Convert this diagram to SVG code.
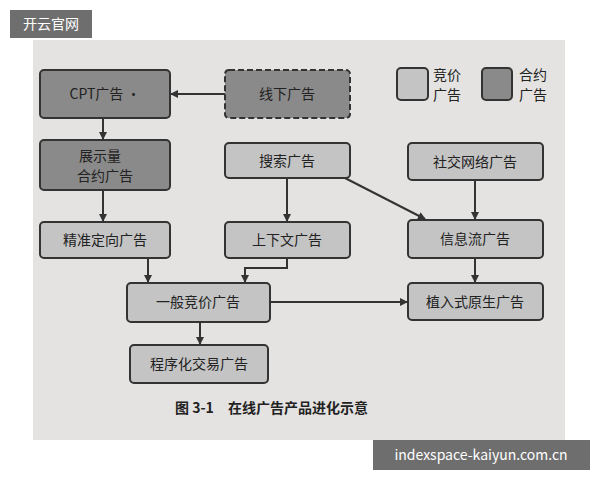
<svg xmlns="http://www.w3.org/2000/svg" width="600" height="480" viewBox="0 0 600 480">
<style>
text{font-family:"Noto Sans CJK SC","Liberation Sans",sans-serif;fill:#222}
.n text{font-size:14px;text-anchor:middle}
.d{fill:#8a8a8a;stroke:#333;stroke-width:2}
.l{fill:#c4c4c4;stroke:#333;stroke-width:2}
.c{stroke:#333;stroke-width:2;fill:none;marker-end:url(#a)}
</style>
<defs><marker id="a" markerWidth="8" markerHeight="8" refX="7" refY="4" orient="auto" markerUnits="userSpaceOnUse"><path d="M0,0L8,4L0,8z" fill="#333"/></marker></defs>
<rect width="600" height="480" fill="#fff"/>
<rect x="33" y="40" width="532" height="400" fill="#e4e3e1"/>
<g id="cpt" class="n"><rect class="d" x="40" y="70" width="130" height="48" rx="4"/><text x="105" y="99">CPT广告 ·</text></g>
<g id="offline" class="n"><rect class="d" x="225" y="70" width="125" height="48" rx="4" stroke-dasharray="6,3"/><text x="287" y="99">线下广告</text></g>
<g id="legend" class="n"><rect class="l" x="397" y="68" width="31" height="32" rx="4"/><text x="447" y="80">竞价</text><text x="447" y="100">广告</text>
<rect class="d" x="482" y="68" width="30" height="32" rx="4"/><text x="533" y="80">合约</text><text x="533" y="100">广告</text></g>
<g id="zhanshi" class="n"><rect class="d" x="40" y="140" width="130" height="50" rx="4"/><text x="100" y="161">展示量</text><text x="105" y="181">合约广告</text></g>
<g id="sousuo" class="n"><rect class="l" x="225" y="143" width="125" height="35" rx="4"/><text x="287" y="166">搜索广告</text></g>
<g id="shejiao" class="n"><rect class="l" x="408" y="143" width="135" height="37" rx="4"/><text x="475" y="167">社交网络广告</text></g>
<g id="jingzhun" class="n"><rect class="l" x="40" y="222" width="130" height="36" rx="4"/><text x="105" y="245">精准定向广告</text></g>
<g id="shangxiawen" class="n"><rect class="l" x="225" y="222" width="125" height="36" rx="4"/><text x="287" y="245">上下文广告</text></g>
<g id="xinxiliu" class="n"><rect class="l" x="408" y="220" width="135" height="38" rx="4"/><text x="475" y="244">信息流广告</text></g>
<g id="yiban" class="n"><rect class="l" x="127" y="283" width="143" height="39" rx="4"/><text x="198" y="307">一般竞价广告</text></g>
<g id="zhiru" class="n"><rect class="l" x="408" y="283" width="135" height="37" rx="4"/><text x="475" y="307">植入式原生广告</text></g>
<g id="chengxu" class="n"><rect class="l" x="130" y="345" width="138" height="38" rx="4"/><text x="199" y="369">程序化交易广告</text></g>
<g id="connectors">
<path class="c" d="M225,94H171"/>
<path class="c" d="M103,118V139"/>
<path class="c" d="M103,190V221"/>
<path class="c" d="M287,178V221"/>
<path class="c" d="M345,178L425,219"/>
<path class="c" d="M475,180V219"/>
<path class="c" d="M148,258V282"/>
<path class="c" d="M287,258V268H245V282"/>
<path class="c" d="M475,258V282"/>
<path class="c" d="M270,302H407"/>
<path class="c" d="M200,322V344"/>
</g>
<text x="175" y="413" font-size="14" font-weight="bold">图 3-1　在线广告产品进化示意</text>
<rect x="10" y="10" width="82" height="28" fill="#555" opacity="0.85"/>
<text x="51" y="29" font-size="14" text-anchor="middle" style="fill:#fff">开云官网</text>
<rect x="373" y="440" width="217" height="30" fill="#555" opacity="0.85"/>
<text x="481" y="460" font-size="14" text-anchor="middle" style="fill:#fff">indexspace-kaiyun.com.cn</text>
</svg>
